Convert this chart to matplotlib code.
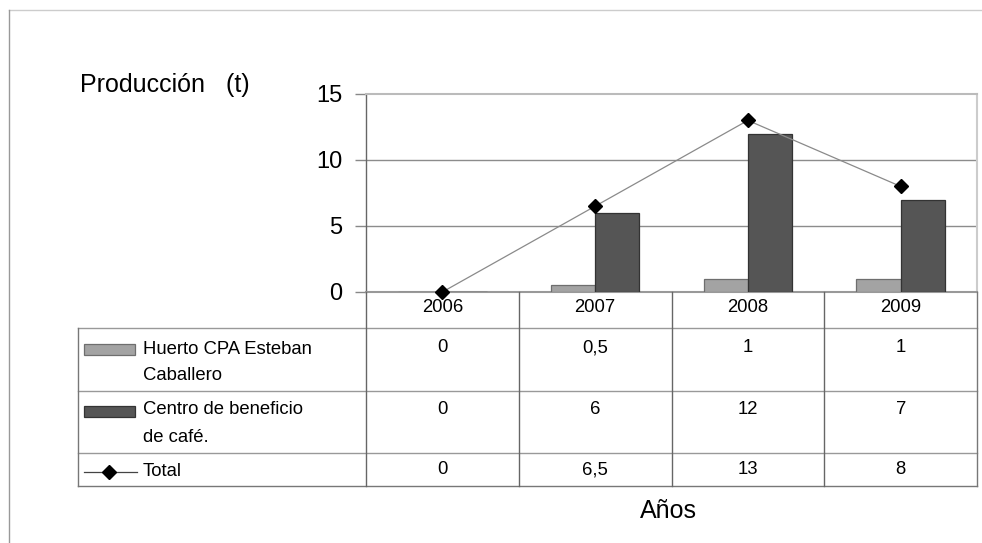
import numpy as np
import matplotlib
matplotlib.use("Agg")
import matplotlib.pyplot as plt
from matplotlib.patches import Rectangle
from matplotlib.lines import Line2D

plt.rcParams['font.family'] = ['Liberation Sans', 'DejaVu Sans']

# ----- data -----
years = ['2006', '2007', '2008', '2009']
huerto = [0, 0.5, 1, 1]
centro = [0, 6, 12, 7]
total = [0, 6.5, 13, 8]
series_names = [['Huerto CPA Esteban', 'Caballero'],
                ['Centro de beneficio', 'de café.'],
                ['Total']]
yticks = [0, 5, 10, 15]

LIGHT = '#a3a3a3'
DARK = '#555555'

W, H = 982, 543
fig = plt.figure(figsize=(W / 100, H / 100), dpi=100)

def px_rect(x0, y0, x1, y1):
    # pixel box (top-left origin) -> figure fraction rect
    return (x0 / W, (H - y1) / H, (x1 - x0) / W, (y1 - y0) / H)

# outer frame of the original picture
fig.add_artist(Line2D([9 / W, 981 / W], [1 - 10 / H, 1 - 10 / H], color='#cccccc', lw=1))
fig.add_artist(Line2D([9 / W, 9 / W], [0, 1 - 10 / H], color='#999999', lw=1))

# ----- chart -----
ax = fig.add_axes(px_rect(366, 94, 977, 292))
x = np.arange(len(years))
bw = 0.29
ax.bar(x - bw / 2, huerto, bw, color=LIGHT, edgecolor='#6e6e6e', lw=0.9, zorder=3)
ax.bar(x + bw / 2, centro, bw, color=DARK, edgecolor='#333333', lw=0.9, zorder=3)
ax.plot(x, total, '-', color='#8a8a8a', lw=0.9, marker='D', ms=7,
        mfc='black', mec='black', zorder=4, clip_on=False)

ax.set_xlim(-0.5, len(years) - 0.5)
ax.set_ylim(0, 15)
ax.set_yticks(yticks)
ax.set_yticklabels([str(t) for t in yticks], fontsize=17)
ax.set_xticks([])
for t in [5, 10]:
    ax.axhline(t, color='#8c8c8c', lw=1, zorder=1)
ax.spines['top'].set_color('#bbbbbb')
ax.spines['top'].set_linewidth(1.5)
ax.spines['right'].set_color('#cccccc')
ax.spines['right'].set_linewidth(1.5)
ax.spines['bottom'].set_color('#999999')
ax.spines['bottom'].set_linewidth(1.5)
ax.spines['left'].set_color('#666666')
ax.spines['left'].set_linewidth(1)
ax.tick_params(axis='y', length=8, color='#888888', pad=9, width=1)

fig.text(80 / W, 1 - 85 / H, 'Producción   (t)', fontsize=18, va='center', ha='left')

# ----- data table below -----
colw = (977 - 366) / len(years)
tab = fig.add_axes(px_rect(78, 292, 977, 486))
x_left = -0.5 - (366 - 78) / colw
tab.set_xlim(x_left, len(years) - 0.5)
tab.set_ylim(486, 292)
tab.axis('off')

rows = [328, 391, 453, 486]
# horizontal row separators
for yy in rows[:-1]:
    tab.plot([x_left, len(years) - 0.5], [yy, yy], color='#999999', lw=1, clip_on=False)
tab.plot([x_left, len(years) - 0.5], [486, 486], color='#777777', lw=1, clip_on=False)
# vertical lines
tab.plot([x_left, x_left], [328, 486], color='#777777', lw=1, clip_on=False)
tab.plot([-0.5, -0.5], [292, 486], color='#666666', lw=1, clip_on=False)
for i in range(1, len(years)):
    tab.plot([i - 0.5, i - 0.5], [292, 486], color='#666666', lw=1, clip_on=False)
tab.plot([len(years) - 0.5] * 2, [292, 486], color='#777777', lw=1, clip_on=False)

FS = 13.3

# year header
for i, yr in enumerate(years):
    tab.text(i, 308, yr, ha='center', va='center', fontsize=FS)

# values
value_y = [348, 409, 470]
for r, vals in enumerate([huerto, centro, total]):
    for i, v in enumerate(vals):
        s = ('%g' % v).replace('.', ',')
        tab.text(i, value_y[r], s, ha='center', va='center', fontsize=FS)

# legend keys
def px2x(px):
    return x_left + (px - 78) / colw

tab.add_patch(Rectangle((px2x(84), 355), px2x(135) - px2x(84), -11,
                        facecolor=LIGHT, edgecolor='#6e6e6e', lw=0.9, clip_on=False))
tab.add_patch(Rectangle((px2x(84), 417), px2x(135) - px2x(84), -11,
                        facecolor=DARK, edgecolor='#333333', lw=0.9, clip_on=False))
tab.plot([px2x(84), px2x(137)], [472, 472], color='#444444', lw=0.9, clip_on=False)
tab.plot([px2x(109)], [472], marker='D', ms=7, color='black', clip_on=False)

label_y = [[349, 375], [410, 437], [472]]
for names, ys in zip(series_names, label_y):
    for nm, yy in zip(names, ys):
        tab.text(px2x(143), yy, nm, ha='left', va='center', fontsize=FS)

fig.text(668 / W, 1 - 511 / H, 'Años', fontsize=18, ha='center', va='center')

fig.savefig('out.png', dpi=100)
